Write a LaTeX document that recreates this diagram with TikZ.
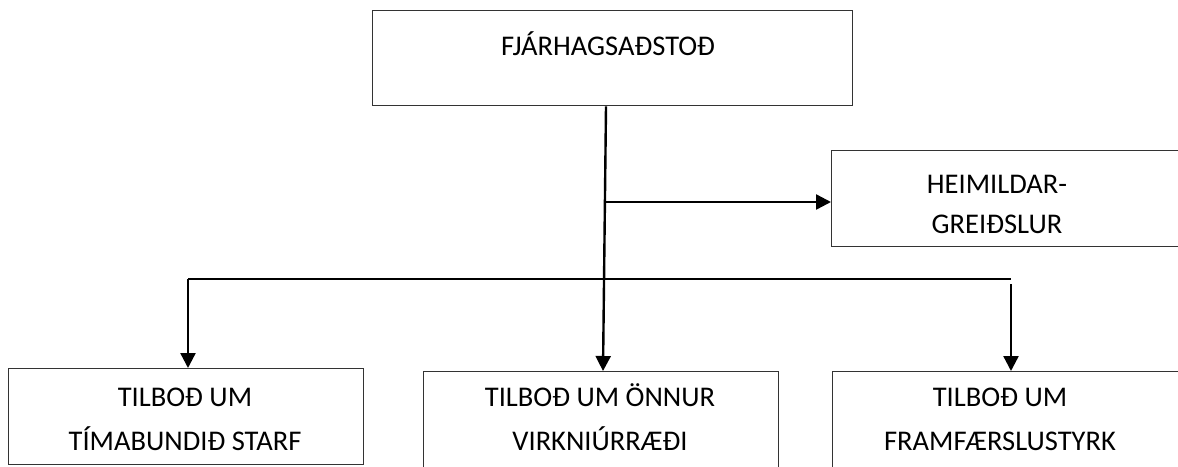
\documentclass[tikz,border=0pt]{standalone}
\usepackage{fontspec}
\setmainfont{Carlito}
\usetikzlibrary{arrows.meta}
\newcommand\twoline[3]{{\fontsize{28.5}{#1}\selectfont\begin{tabular}[t]{@{}c@{}}#2\\#3\end{tabular}}}
\begin{document}
\begin{tikzpicture}[x=1pt,y=-1pt,
  box/.style={draw=black!80, line width=1.4pt, inner sep=0pt, anchor=north west},
  txt/.style={inner sep=0pt, anchor=base, font=\fontsize{28.5}{34}\selectfont},
  arr/.style={draw=black, line width=2.4pt, -{Triangle[length=15pt,width=15pt]}},
  bar/.style={draw=black, line width=1.4pt}]
\useasboundingbox (0,0) rectangle (1178,466);
\clip (0,0) rectangle (1178,466);
% boxes
\node[box, minimum width=480pt, minimum height=95pt] (top) at (372,10) {};
\node[box, minimum width=380pt, minimum height=96pt] (heim) at (831,150) {};
\node[box, minimum width=355pt, minimum height=96pt] (b1) at (8,368) {};
\node[box, minimum width=355pt, minimum height=120pt] (b2) at (423,371) {};
\node[box, minimum width=380pt, minimum height=120pt] (b3) at (832,371) {};
% texts
\node[txt] (ttop) at (608,55) {FJÁRHAGSAÐSTOÐ};
\node[txt] (theim) at (997,193) {\twoline{40}{HEIMILDAR-}{GREIĐSLUR}};
\node[txt] (tb1) at (185,406) {\twoline{44}{TILBOĐ UM}{TÍMABUNDIĐ STARF}};
\node[txt] (tb2) at (600,406) {\twoline{44}{TILBOĐ UM ÖNNUR}{VIRKNIÚRRÆÐI}};
\node[txt] (tb3) at (1000,406) {\twoline{44}{TILBOĐ UM}{FRAMFÆRSLUSTYRK}};
% connectors
\coordinate (br) at (605,202);
\coordinate (barL) at (188,279);
\coordinate (barR) at (1011,279);
\coordinate (barRs) at (1011,284);
\draw[arr] (606,0 |- top.south) -- (603,0 |- b2.north);
\draw[arr] (br) -- (br -| heim.west);
\draw[bar] (barL) -- (barR);
\draw[arr] (barL) -- (barL |- b1.north);
\draw[arr] (barRs) -- (barRs |- b3.north);
\end{tikzpicture}
\end{document}
